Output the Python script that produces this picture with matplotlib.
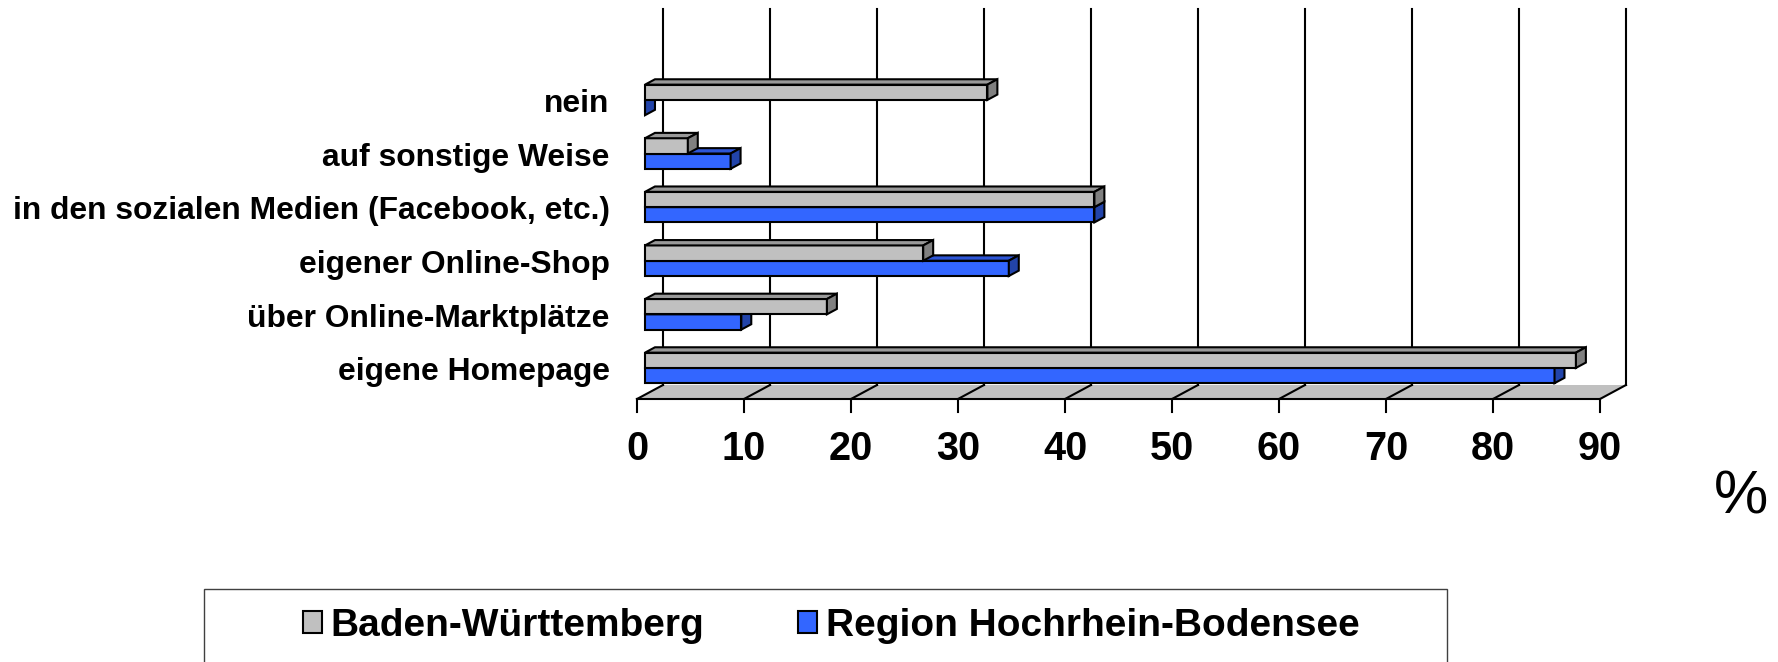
import matplotlib
matplotlib.use("Agg")
import matplotlib.pyplot as plt
from matplotlib.patches import Polygon, Patch, Rectangle

plt.rcParams['font.family'] = ['Liberation Sans', 'DejaVu Sans']

# data, bottom to top
categories = ["eigene Homepage", "über Online-Marktplätze", "eigener Online-Shop",
              "in den sozialen Medien (Facebook, etc.)", "auf sonstige Weise", "nein"]
bw_values = [87, 17, 26, 42, 4, 32]
region_values = [85, 9, 34, 42, 8, 0]
series_names = ["Baden-Württemberg", "Region Hochrhein-Bodensee"]
xticks = list(range(0, 91, 10))

# 3d look
floor_dx, floor_dy = 2.43, 0.261      # depth of floor (x units, y units)
bar_ox, bar_oy = 0.75, 0.08          # front face of bars inside the depth
bar_dx, bar_dy = 0.93, 0.10          # depth of a bar
bar_h = 0.285
wall_top = 7.276

gray = ('#c0c0c0', '#999999', '#808080')
blue = ('#3366ff', '#2d55d6', '#2244aa')

fig = plt.figure(figsize=(17.78, 6.62), dpi=100)
ax = fig.add_axes([0, 0, 1, 1])
ax.set_xlim(-637 / 10.7, (1778 - 637) / 10.7)
ax.set_ylim((399 - 662) / 53.6, 399 / 53.6)
ax.axis('off')

lw = 1.5
xmax = xticks[-1]

# floor
ax.add_patch(Polygon([(0, 0), (xmax, 0), (xmax + floor_dx, floor_dy), (floor_dx, floor_dy)],
                     closed=True, facecolor='#c0c0c0', edgecolor='none', zorder=1))
ax.plot([0, xmax], [0, 0], color='k', lw=lw, zorder=2)
for t in xticks:
    ax.plot([t, t + floor_dx], [0, floor_dy], color='k', lw=lw, zorder=2)
    ax.plot([t + floor_dx, t + floor_dx], [floor_dy, wall_top], color='k', lw=lw, zorder=2)
    ax.plot([t, t], [0, -0.243], color='k', lw=lw, zorder=2)
    ax.text(t, -0.93, str(t), ha='center', va='center', fontsize=28.5,
            fontweight='bold')

ax.text(103.2, -1.85, '%', ha='center', va='center', fontsize=44)


def bar3d(v, y0, cols, z):
    x0 = bar_ox
    front = [(x0, y0), (x0 + v, y0), (x0 + v, y0 + bar_h), (x0, y0 + bar_h)]
    top = [(x0, y0 + bar_h), (x0 + v, y0 + bar_h),
           (x0 + v + bar_dx, y0 + bar_h + bar_dy), (x0 + bar_dx, y0 + bar_h + bar_dy)]
    side = [(x0 + v, y0), (x0 + v + bar_dx, y0 + bar_dy),
            (x0 + v + bar_dx, y0 + bar_h + bar_dy), (x0 + v, y0 + bar_h)]
    for pts, c in zip([front, top, side], cols):
        ax.add_patch(Polygon(pts, closed=True, facecolor=c, edgecolor='k',
                             lw=1.5, joinstyle='miter', zorder=z))


for i, cat in enumerate(categories):
    c = i + 0.5 + bar_oy
    bar3d(region_values[i], c - bar_h, blue, 3 + 2 * i)
    bar3d(bw_values[i], c, gray, 4 + 2 * i)
    ax.text(-2.55, i + 0.5, cat, ha='right', va='center', fontsize=22.9,
            fontweight='bold')

# legend
fig.patches.append(Rectangle((204 / 1778, -0.05), 1243 / 1778, (662 - 589) / 662 + 0.05,
                             transform=fig.transFigure, facecolor='none',
                             edgecolor='#404040', lw=1.0))
handles = [Patch(facecolor=gray[0], edgecolor='k', lw=1.5),
           Patch(facecolor=blue[0], edgecolor='k', lw=1.5)]
fig.legend(handles, series_names, loc='center', bbox_to_anchor=(831 / 1778, 36 / 662),
           ncol=2, frameon=False, prop={'weight': 'bold', 'size': 28},
           handlelength=0.5, handleheight=0.5, handletextpad=0.22, columnspacing=2.4)

fig.savefig('out.png', dpi=100)
